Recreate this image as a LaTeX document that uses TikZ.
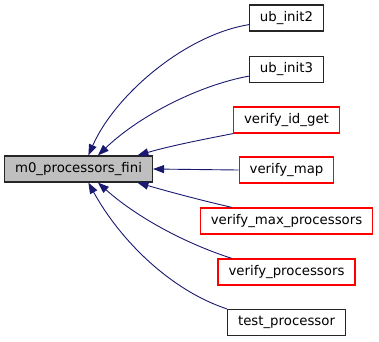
\documentclass[tikz,border=0pt]{standalone}
\usepackage{fontspec}
\setmainfont{DejaVu Sans}
\usetikzlibrary{arrows.meta}
\definecolor{edgeblue}{HTML}{191970}
\definecolor{fnborder}{HTML}{FF0000}
\begin{document}
\begin{tikzpicture}[x=1pt, y=-1pt, every node/.style={font=\fontsize{13.3}{16}\selectfont},
  fn/.style={draw=black!85,line width=1.2pt,minimum height=26pt,inner xsep=10.5pt,inner ysep=0pt},
  fnred/.style={fn,draw=fnborder},
  call/.style={<-,edgeblue,line width=0.9pt,>={Triangle[length=11pt,width=8pt]}}]
\useasboundingbox (0,0) rectangle (379,341);
\node[fn,fill=black!25,minimum width=147pt] (fini) at (78.5,169) {m0\_processors\_fini};
% callers, one column on the right
\node[fn] (ub2) at (286.5,18) {ub\_init2};
\node[fn] (ub3) at (286.5,69.5) {ub\_init3};
\node[fnred] (vid) at (286.5,120) {verify\_id\_get};
\node[fnred] (vmap) at (286.5,170) {verify\_map};
\node[fnred] (vmax) at (286.5,221) {verify\_max\_processors};
\node[fnred] (vproc) at (286.5,272) {verify\_processors};
\node[fn] (tproc) at (286.5,322.5) {test\_processor};
\draw[call] (fini.54) .. controls (115,95) and (185,35) .. (ub2.190);
\draw[call] (fini.35) .. controls (140,115) and (200,85) .. (ub3.190);
\draw[call] (fini.13) .. controls (170,146) and (200,140) .. (vid.south west);
\draw[call] (fini.east) -- (vmap.west);
\draw[call] (fini.-13) .. controls (170,192) and (200,200) .. (vmax.166);
\draw[call] (fini.-35) .. controls (140,220) and (190,245) .. (vproc.166);
\draw[call] (fini.-54) .. controls (120,240) and (170,290) .. (tproc.north west);
\end{tikzpicture}
\end{document}
